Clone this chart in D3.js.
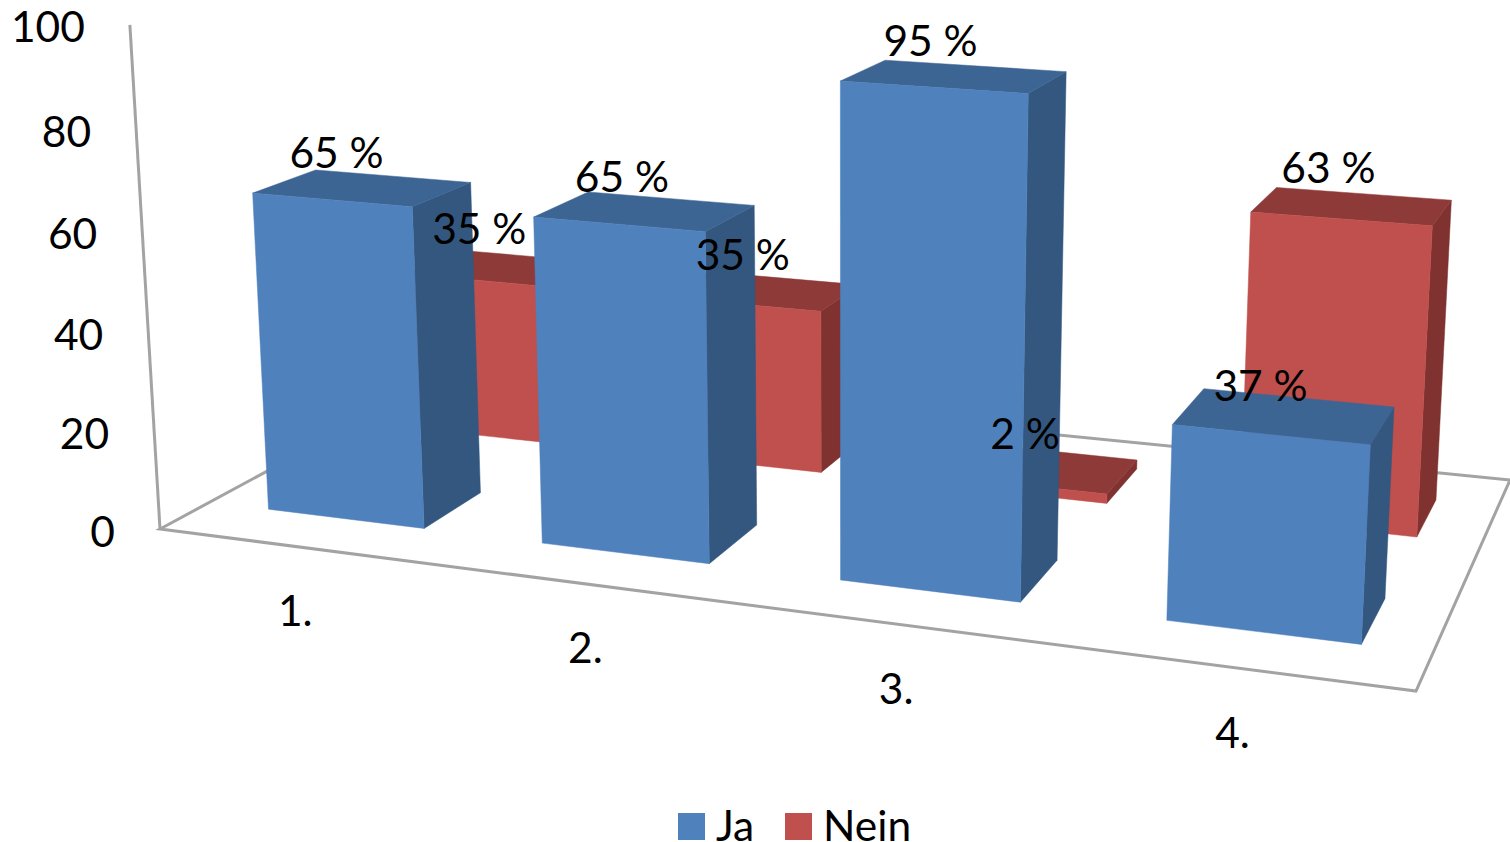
<!DOCTYPE html>
<html lang="de">
<head>
<meta charset="UTF-8">
<title>Ja / Nein</title>
<script src="https://cdn.jsdelivr.net/npm/d3@7"></script>
<style>
    body { margin: 0; background: #fff; }
    text { font-family: Lato, "Open Sans", sans-serif; fill: #000; }
</style>
</head>
<body>
<script>
var categories = ["1.", "2.", "3.", "4."];
var seriesNames = ["Ja", "Nein"];
var jaValues = [65, 65, 95, 37];
var neinValues = [35, 35, 2, 63];
var valueTicks = [0, 20, 40, 60, 80, 100];

var width = 1510, height = 842;
var fontSize = 42.5;

var colors = {
    Ja: { front: "#4f81bd", top: "#3d6594", side: "#33577f" },
    Nein: { front: "#c0504d", top: "#8d3a38", side: "#7f322f" }
};

var svg = d3.select("body").append("svg").attr("width", width).attr("height", height);

// scales work on the unit floor (s along the categories, t into the depth)
var sScale = d3.scaleBand().domain(categories).range([0.0038, 1.0098]).paddingInner(0.4195).paddingOuter(0.20975);
var tScale = d3.scaleBand().domain(seriesNames).range([0, 1]).paddingInner(0.6).paddingOuter(0.3);
var vScale = d3.scaleLinear().domain([0, 100]).range([0, 1]);

// bars get a little narrower to the right
function barWidth(cat) {
    return sScale.bandwidth() * (1 - 0.055 * sScale(cat));
}
function barCenter(cat) {
    return sScale(cat) + barWidth(cat) / 2;
}

// floor homography from the four corners of the floor as they sit on screen
var c0 = [160, 529], c1 = [1416, 691], c2 = [1510, 480], c3 = [447, 374];
var sx = c0[0] - c1[0] + c2[0] - c3[0], sy = c0[1] - c1[1] + c2[1] - c3[1];
var dx1 = c1[0] - c2[0], dx2 = c3[0] - c2[0], dy1 = c1[1] - c2[1], dy2 = c3[1] - c2[1];
var det = dx1 * dy2 - dx2 * dy1;
var g = (sx * dy2 - dx2 * sy) / det, h = (dx1 * sy - sx * dy1) / det;
var a = c1[0] - c0[0] + g * c1[0], b = c3[0] - c0[0] + h * c3[0];
var d = c1[1] - c0[1] + g * c1[1], e = c3[1] - c0[1] + h * c3[1];

// vanishing point of the verticals, w comes from the top of the wall
var vanish = [845, 12000];
var w = -0.0421;

function project(s, t, v) {
    var vv = v * (1 - 0.036 * s);
    var W = 1 + g * s + h * t + w * vv;
    return [
        (a * s + b * t + c0[0] + w * vanish[0] * vv) / W,
        (d * s + e * t + c0[1] + w * vanish[1] * vv) / W
    ];
}

var line = d3.line();

function poly(points, fill) {
    svg.append("path")
        .attr("d", line(points) + "Z")
        .attr("fill", fill)
        .attr("stroke", fill)
        .attr("stroke-width", 0.5);
}

// floor and wall
var gridColor = "#a3a3a3";
svg.append("path")
    .attr("d", line([c0, c1, c2, c3]) + "Z")
    .attr("fill", "#fff")
    .attr("stroke", gridColor)
    .attr("stroke-width", 3);
svg.append("path")
    .attr("d", line([project(0, 0, 0), project(0, 0, 1)]))
    .attr("fill", "none")
    .attr("stroke", gridColor)
    .attr("stroke-width", 3);

// y labels
svg.selectAll(".ytick").data(valueTicks).enter().append("text")
    .attr("class", "ytick")
    .attr("text-anchor", "end")
    .attr("dominant-baseline", "central")
    .attr("font-size", fontSize)
    .attr("x", function (v) { return project(0, 0, vScale(v))[0] - 45; })
    .attr("y", function (v) { return project(0, 0, vScale(v))[1] + 1; })
    .text(function (v) { return v; });

// x labels
var xTickShift = [-3, 1, -1, -8];
svg.selectAll(".xtick").data(categories).enter().append("text")
    .attr("class", "xtick")
    .attr("text-anchor", "middle")
    .attr("dominant-baseline", "central")
    .attr("font-size", fontSize)
    .attr("x", function (c, i) { return project(barCenter(c), 0, 0)[0] + xTickShift[i]; })
    .attr("y", function (c) { return project(barCenter(c), 0, 0)[1] + 63; })
    .text(function (c) { return c; });

// bars, back row first
function drawBar(name, cat, value) {
    var s0 = sScale(cat), s1 = s0 + barWidth(cat);
    var t0 = tScale(name), t1 = t0 + tScale.bandwidth();
    var v = vScale(value);
    var col = colors[name];
    poly([project(s1, t0, 0), project(s1, t1, 0), project(s1, t1, v), project(s1, t0, v)], col.side);
    poly([project(s0, t0, v), project(s1, t0, v), project(s1, t1, v), project(s0, t1, v)], col.top);
    poly([project(s0, t0, 0), project(s1, t0, 0), project(s1, t0, v), project(s0, t0, v)], col.front);
}

categories.forEach(function (c, i) { drawBar("Nein", c, neinValues[i]); });
categories.forEach(function (c, i) { drawBar("Ja", c, jaValues[i]); });

// data labels go on top of everything
var labelShift = {
    Ja: [[5, -48], [3.5, -49], [-2.5, -48], [-9.5, -50]],
    Nein: [[0, -53], [1, -51], [1.5, -53], [-12, -52]]
};

function drawLabels(name, values) {
    values.forEach(function (value, i) {
        var p = project(barCenter(categories[i]), tScale(name), vScale(value));
        svg.append("text")
            .attr("class", "label")
            .attr("text-anchor", "middle")
            .attr("dominant-baseline", "central")
            .attr("font-size", fontSize)
            .attr("x", p[0] + labelShift[name][i][0])
            .attr("y", p[1] + labelShift[name][i][1])
            .text(value + " %");
    });
}
drawLabels("Nein", neinValues);
drawLabels("Ja", jaValues);

// legend
var legendX = { Ja: 678, Nein: 785 };
seriesNames.forEach(function (name) {
    svg.append("rect")
        .attr("x", legendX[name]).attr("y", 813)
        .attr("width", 27).attr("height", 27)
        .attr("fill", colors[name].front);
    svg.append("text")
        .attr("x", legendX[name] + 38)
        .attr("y", 824)
        .attr("dominant-baseline", "central")
        .attr("font-size", fontSize)
        .text(name);
});
</script>
</body>
</html>
